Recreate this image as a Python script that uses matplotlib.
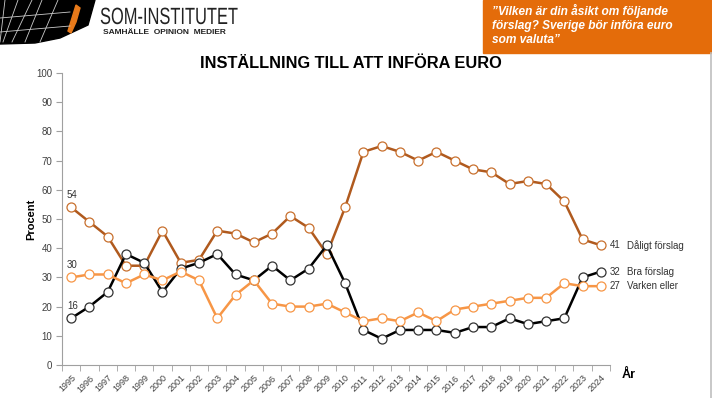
import matplotlib.pyplot as plt
from matplotlib.patches import Rectangle, Polygon, PathPatch
from matplotlib.textpath import TextPath
from matplotlib.font_manager import FontProperties
from matplotlib.transforms import Affine2D, IdentityTransform

years = [str(y) for y in range(1995, 2025)]

daligt = [54, 49, 44, 34, 34, 46, 35, 36, 46, 45, 42, 45, 51, 47, 38,
          54, 73, 75, 73, 70, 73, 70, 67, 66, 62, 63, 62, 56, 43, 41]
bra = [16, 20, 25, 38, 35, 25, 33, 35, 38, 31, 29, 34, 29, 33, 41,
       28, 12, 9, 12, 12, 12, 11, 13, 13, 16, 14, 15, 16, 30, 32]
varken = [30, 31, 31, 28, 31, 29, 32, 29, 16, 24, 29, 21, 20, 20, 21,
          18, 15, 16, 15, 18, 15, 19, 20, 21, 22, 23, 23, 28, 27, 27]

series_names = ['Dåligt förslag', 'Bra förslag', 'Varken eller']
yticks = list(range(0, 101, 10))

plt.rcParams['font.family'] = ['Liberation Sans', 'DejaVu Sans']

fig = plt.figure(figsize=(7.12, 3.98), dpi=100)
W, H = 712, 398

# chart area
ax = fig.add_axes([62 / W, 1 - 365 / H, 548 / W, 292 / H])
x = list(range(len(years)))

lines = [
    (daligt, '#B05A1E', '#C8702E'),
    (bra, '#000000', '#333333'),
    (varken, '#F79646', '#F79646'),
]
for vals, col, edge in lines:
    ax.plot(x, vals, color=col, lw=1.8, marker='o', ms=6.5,
            mfc='white', mec=edge, mew=0.9, zorder=3)

ax.set_xlim(-0.5, len(years) - 0.5)
ax.set_ylim(0, 100)
ax.set_yticks(yticks)
ax.set_yticklabels([str(v) for v in yticks], fontsize=7, color='#404040')
ax.set_xticks(x)
ax.set_xticklabels(years, rotation=45, ha='right', rotation_mode='anchor',
                   fontsize=6.5, color='#404040')
ax.set_xticks([i - 0.5 for i in range(len(years) + 1)], minor=True)
ax.tick_params(axis='x', which='major', length=0, pad=6)
ax.tick_params(axis='x', which='minor', length=4, color='#A0A0A0')
ax.tick_params(axis='y', length=4, color='#A0A0A0', pad=3)
for s in ['top', 'right']:
    ax.spines[s].set_visible(False)
for s in ['left', 'bottom']:
    ax.spines[s].set_color('#A0A0A0')
ax.set_ylabel('Procent', fontsize=8, fontweight='bold')
ax.yaxis.set_label_coords(-0.047, 0.5)
ax.patch.set_alpha(0)

# start labels
for vals in [daligt, varken, bra]:
    ax.annotate(str(vals[0]), (0, vals[0]), xytext=(-3, 7),
                textcoords='offset points', fontsize=7, color='#333333')

# end labels
for vals, name in zip([daligt, bra, varken], series_names):
    ax.annotate(str(vals[-1]), (x[-1], vals[-1]), xytext=(6.5, 0),
                textcoords='offset points', va='center', fontsize=7,
                color='#333333', annotation_clip=False)
    ax.annotate(name, (x[-1], vals[-1]), xytext=(19, 0),
                textcoords='offset points', va='center', fontsize=7,
                color='#333333', annotation_clip=False)

fig.text(622 / W, 1 - 375 / H, 'År', fontsize=9, fontweight='bold',
         va='center')

fig.text(351 / W, 1 - 63 / H, 'INSTÄLLNING TILL ATT INFÖRA EURO',
         fontsize=11.8, fontweight='bold', ha='center', va='center')

# header: orange question box
fig.patches.append(Rectangle((483 / W, 1 - 53 / H), 229 / W, 53 / H,
                             transform=fig.transFigure, color='#E46C0A'))
fig.text(492 / W, 1 - 25 / H,
         '\u201dVilken är din åsikt om följande\nförslag? Sverige bör införa euro\nsom valuta\u201d',
         fontsize=8.6, color='white', style='italic', fontweight='bold',
         va='center', linespacing=1.2)
fig.add_artist(plt.Line2D([710.5 / W, 710.5 / W], [0, 1 - 53 / H],
                          color='#BFBFBF', lw=1.2))

# header: logo
fig.patches.append(Polygon([(0, 1), (95 / W, 1), (88 / W, 1 - 25 / H),
                            (60 / W, 1 - 38 / H), (35 / W, 1 - 43 / H),
                            (0, 1 - 44 / H)],
                           transform=fig.transFigure, color='black'))
for x0, x1 in [(5, 0), (18, 3), (32, 12), (42, 25), (58, 40)]:
    fig.add_artist(plt.Line2D([x0 / W, x1 / W], [1, 1 - 42 / H],
                              color='#CCCCCC', lw=0.6))
for yy in [12, 26]:
    fig.add_artist(plt.Line2D([0, 70 / W], [1 - (yy + 6) / H, 1 - yy / H],
                              color='#CCCCCC', lw=0.6))
fig.patches.append(Polygon([(76 / W, 1 - 5 / H), (80 / W, 1 - 8 / H),
                            (76 / W, 1 - 22 / H), (71 / W, 1 - 33 / H),
                            (68 / W, 1 - 31 / H), (72 / W, 1 - 18 / H)],
                           transform=fig.transFigure, color='#E87A1A'))

# condensed wordmark, squeezed horizontally
tp = TextPath((0, 0), 'SOM-INSTITUTET', size=23.5,
              prop=FontProperties(family='Liberation Sans'))
tr = Affine2D().scale(0.70, 1.0).translate(100, H - 24) + IdentityTransform()
fig.add_artist(PathPatch(tp, transform=tr, color='#222222', lw=0))

fig.text(103 / W, 1 - 32 / H, 'SAMHÄLLE  OPINION  MEDIER', fontsize=6,
         fontweight='bold', color='#222222', va='center')

fig.savefig('out.png', dpi=100)
